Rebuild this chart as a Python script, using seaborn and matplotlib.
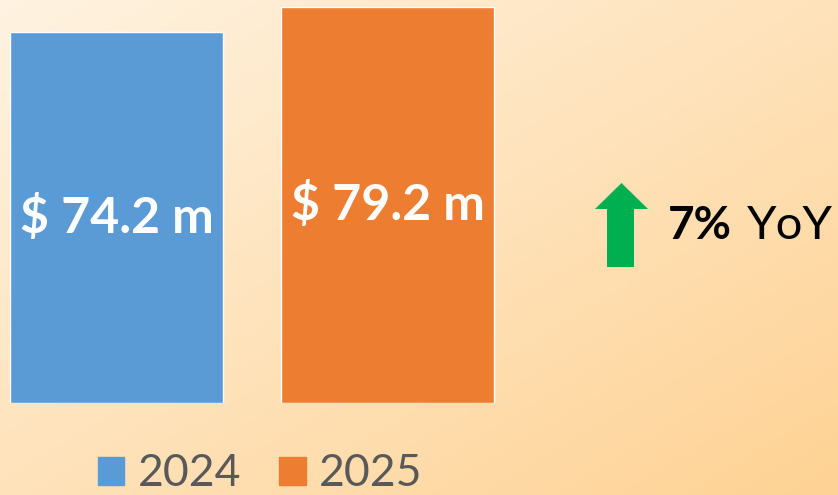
import numpy as np
import pandas as pd
import matplotlib.pyplot as plt
import matplotlib.patches as mpatches
import seaborn as sns

years = ['2024', '2025']
revenue = [74.2, 79.2]
labels = ['$ 74.2 m', '$ 79.2 m']
colors = ['#5B9BD5', '#ED7D31']
growth = '7%'

sns.set_theme(style='white')
plt.rcParams['font.family'] = ['Lato', 'DejaVu Sans']

W, H = 838, 495
fig = plt.figure(figsize=(W / 100, H / 100), dpi=100)

# diagonal peach gradient behind everything
bg = fig.add_axes([0, 0, 1, 1], zorder=0)
u, v = np.meshgrid(np.linspace(0, 1, 200), np.linspace(0, 1, 120))
t = (u + v) / 2
c0 = np.array([255, 243, 225]) / 255
c1 = np.array([254, 210, 148]) / 255
img = c0[None, None, :] * (1 - t[..., None]) + c1[None, None, :] * t[..., None]
bg.imshow(img, aspect='auto', extent=[0, 1, 0, 1], origin='upper')
bg.axis('off')

# main axes: bars sit between y=7px and y=403px, centers 271 px apart
step = 271
ax = fig.add_axes([0, (H - 403) / H, 1, (403 - 7) / H], zorder=1)
ax.patch.set_alpha(0)
df = pd.DataFrame({'year': years, 'revenue': revenue})
sns.barplot(data=df, x='year', y='revenue', hue='year', palette=colors,
            width=213 / step, legend=False, ax=ax, saturation=1)
ax.set_xlim(-116.5 / step, (W - 116.5) / step)
ax.set_ylim(0, max(revenue))
for cont, lab in zip(ax.containers, labels):
    ax.bar_label(cont, labels=[lab], label_type='center', color='white',
                 fontsize=36, fontweight='bold')
ax.axis('off')

# growth arrow + text
ax2 = fig.add_axes([0, 0, 1, 1], zorder=2)
ax2.set_xlim(0, W)
ax2.set_ylim(H, 0)
ax2.axis('off')
arrow = mpatches.Polygon([(607, 267), (607, 209), (595, 209), (621.5, 183),
                          (648, 209), (634, 209), (634, 267)],
                         closed=True, color='#00B050', lw=0)
ax2.add_patch(arrow)
ax2.text(668, 226, growth, fontsize=33, fontweight='bold', color='black',
         va='center', ha='left')
ax2.text(747, 226, 'YoY', fontsize=34, color='black', va='center', ha='left')

# legend
handles = [mpatches.Patch(color=c, label=y) for c, y in zip(colors, years)]
fig.legend(handles=handles, loc='center', bbox_to_anchor=(260 / W, 1 - 474 / H),
           ncol=2, frameon=False, fontsize=32, labelcolor='#595959',
           handlelength=0.6, handleheight=0.6, handletextpad=0.3,
           columnspacing=0.85)

fig.savefig('out.png', dpi=100)
